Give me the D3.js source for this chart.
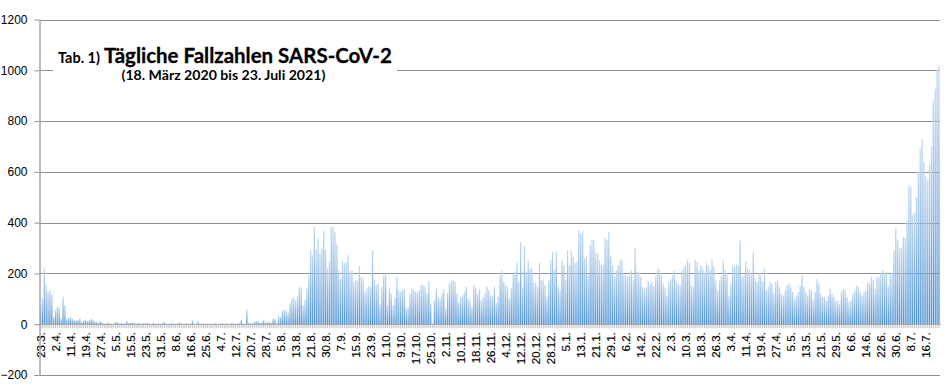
<!DOCTYPE html>
<html><head><meta charset="utf-8">
<script src="https://cdn.jsdelivr.net/npm/d3@7"></script>
<style>
html,body{margin:0;padding:0;background:#fff;}
svg{display:block;}
</style></head>
<body>
<svg id="chart" width="950" height="391"></svg>
<script>
// ---- data ----
const titlePrefix = "Tab. 1)";
const titleMain = "Tägliche Fallzahlen SARS-CoV-2";
const subtitle = "(18. März 2020 bis 23. Juli 2021)";

const tickLabels = ["23.3.","2.4.","11.4.","19.4.","27.4.","5.5.","15.5.","23.5.","31.5.","8.6.",
  "16.6.","25.6.","4.7.","12.7.","20.7.","28.7.","5.8.","13.8.","21.8.","30.8.",
  "7.9.","15.9.","23.9.","1.10.","9.10.","17.10.","25.10.","2.11.","10.11.","18.11.",
  "26.11.","4.12.","12.12.","20.12.","28.12.","5.1.","13.1.","21.1.","29.1.","6.2.",
  "14.2.","22.2.","2.3.","10.3.","18.3.","26.3.","3.4.","11.4.","19.4.","27.4.",
  "5.5.","13.5.","21.5.","29.5.","6.6.","14.6.","22.6.","30.6.","8.7.","16.7."];
const labelEvery = 8;

const values = [
  75,101,220,158,125,137,118,30,
  55,71,66,22,108,75,22,26,
  29,22,16,16,16,22,9,16,
  18,13,16,22,18,9,9,5,
  13,5,3,3,7,3,3,3,
  10,8,4,5,3,4,12,5,
  5,8,4,3,6,4,3,5,
  4,6,3,2,5,3,2,4,
  3,4,10,3,2,3,4,2,
  3,2,8,3,2,3,4,2,
  3,15,2,3,12,3,2,4,
  3,4,2,3,2,5,3,2,
  3,5,2,4,3,2,6,3,
  3,3,5,18,3,3,59,5,
  5,3,9,12,12,5,8,18,
  5,9,9,5,22,22,5,32,
  29,55,55,55,45,82,101,105,
  95,110,145,145,75,95,141,193,
  292,272,384,295,338,279,299,368,
  292,220,246,384,384,364,318,213,
  180,253,240,246,272,207,213,167,
  174,171,229,187,180,128,141,150,
  147,292,174,154,163,79,147,193,
  200,75,145,121,75,105,187,134,
  128,137,141,62,66,121,141,134,
  128,128,134,158,154,150,121,171,
  82,3,95,141,108,101,121,137,
  62,124,161,171,174,167,121,88,
  108,114,128,147,101,95,68,154,
  145,121,140,95,108,121,150,134,
  114,110,150,84,110,193,213,167,
  154,147,101,141,200,207,242,167,
  325,145,308,207,253,220,220,163,
  163,147,242,174,176,154,108,174,
  253,286,213,286,150,134,255,233,
  174,292,233,290,266,242,246,371,
  358,368,259,272,193,312,332,332,
  282,279,253,233,233,338,332,364,
  268,233,187,213,233,253,253,193,
  193,189,189,213,173,300,207,203,
  187,147,140,147,171,160,167,150,
  189,220,213,193,160,144,113,167,
  180,193,211,171,160,153,213,227,
  233,253,240,153,147,253,247,213,
  233,220,200,243,233,213,256,227,
  173,133,173,187,251,213,200,113,
  160,233,227,237,233,330,187,193,
  247,220,213,193,287,180,167,200,
  193,167,220,133,147,167,160,120,
  167,173,147,120,113,133,153,160,
  147,127,100,113,127,153,193,147,
  127,113,140,133,93,127,180,160,
  120,107,107,93,113,140,120,107,
  93,93,80,127,140,133,107,87,
  93,120,133,153,147,127,113,127,
  133,167,160,187,173,140,187,187,
  200,213,200,205,150,205,200,290,
  376,330,300,300,344,340,409,547,
  540,430,440,500,600,691,730,639,
  580,567,632,700,880,927,1000,1019
];
const categories = values.map((v, i) => i);
const yTicks = [-200, 0, 200, 400, 600, 800, 1000, 1200];

// ---- layout ----
const svg = d3.select("#chart");
const plotLeft = 39.5, plotRight = 940, plotTop = 19.5, plotBottom = 375;

const x = d3.scaleBand().domain(categories).range([plotLeft, plotRight]).paddingInner(0.3).paddingOuter(0.2);
const y = d3.scaleLinear().domain([-200, 1200]).range([plotBottom, plotTop]);

const defs = svg.append("defs");
const grad = defs.append("linearGradient").attr("id", "barGrad")
  .attr("x1", 0).attr("y1", 0).attr("x2", 0).attr("y2", 1);
grad.append("stop").attr("offset", "0%").attr("stop-color", "#c4daf1");
grad.append("stop").attr("offset", "100%").attr("stop-color", "#4d92d6");

// gridlines
svg.append("g")
  .attr("transform", `translate(${plotLeft},0)`)
  .call(d3.axisLeft(y).tickValues(yTicks).tickSize(-(plotRight - plotLeft)).tickFormat(""))
  .call(g => g.select(".domain").remove())
  .call(g => g.selectAll("line").attr("stroke", "#8f8f8f").attr("stroke-width", 1)
      .attr("shape-rendering", "crispEdges"));

// bars
svg.append("g").selectAll("rect")
  .data(values)
  .join("rect")
  .attr("x", (d, i) => x(categories[i]))
  .attr("width", x.bandwidth())
  .attr("y", d => y(Math.max(0, d)))
  .attr("height", d => Math.abs(y(d) - y(0)))
  .attr("fill", "url(#barGrad)");

// x axis with per-category tick marks
const xAxis = svg.append("g")
  .attr("transform", `translate(0,${y(0)})`)
  .call(d3.axisBottom(x).tickSize(4).tickSizeOuter(0)
    .tickFormat((d, i) => i % labelEvery === 0 ? tickLabels[i / labelEvery] : ""));
xAxis.select(".domain").attr("stroke", "#a6a6a6").attr("shape-rendering", "crispEdges");
xAxis.selectAll(".tick line").attr("stroke", "#b4b4b4").attr("stroke-width", 0.8);
xAxis.selectAll(".tick text")
  .attr("font-family", "'Liberation Sans', Arial, sans-serif")
  .attr("font-size", 11.5)
  .attr("fill", "#000")
  .attr("stroke", "#000").attr("stroke-width", 0.15)
  .attr("text-anchor", "end")
  .attr("transform", "rotate(-90)")
  .attr("x", -8)
  .attr("y", 0)
  .attr("dy", "0.35em");

// y axis
const yAxis = svg.append("g")
  .attr("transform", `translate(${plotLeft},0)`)
  .call(d3.axisLeft(y).tickValues(yTicks).tickSize(5).tickSizeOuter(0).tickFormat(d3.format("d")));
yAxis.select(".domain").attr("stroke", "#a6a6a6").attr("stroke-width", 1.5);
yAxis.selectAll(".tick line").attr("stroke", "#8f8f8f");
yAxis.selectAll(".tick text")
  .attr("font-family", "'Liberation Sans', Arial, sans-serif")
  .attr("font-size", 12)
  .attr("fill", "#000")
  .attr("x", -12);

// title box
svg.append("rect").attr("x", 53).attr("y", 38).attr("width", 344).attr("height", 52).attr("fill", "#fff");

const font = "Lato, 'Open Sans', sans-serif";
function fitText(sel, target) {
  const w = sel.node().getComputedTextLength();
  const fs = parseFloat(sel.attr("font-size"));
  sel.attr("font-size", fs * target / w);
}
const t1 = svg.append("text").attr("x", 58).attr("y", 62.5)
  .attr("font-family", font).attr("font-weight", 700).attr("font-size", 13)
  .attr("fill", "#000").text(titlePrefix);
fitText(t1, 42);
const t2 = svg.append("text").attr("x", 104).attr("y", 62.5)
  .attr("font-family", font).attr("font-weight", 700).attr("font-size", 20)
  .attr("fill", "#000").attr("stroke", "#000").attr("stroke-width", 0.3).text(titleMain);
fitText(t2, 288);
const t3 = svg.append("text").attr("x", 121.5).attr("y", 79.5)
  .attr("font-family", font).attr("font-weight", 700).attr("font-size", 13)
  .attr("fill", "#000").text(subtitle);
fitText(t3, 204);
</script>
</body></html>
